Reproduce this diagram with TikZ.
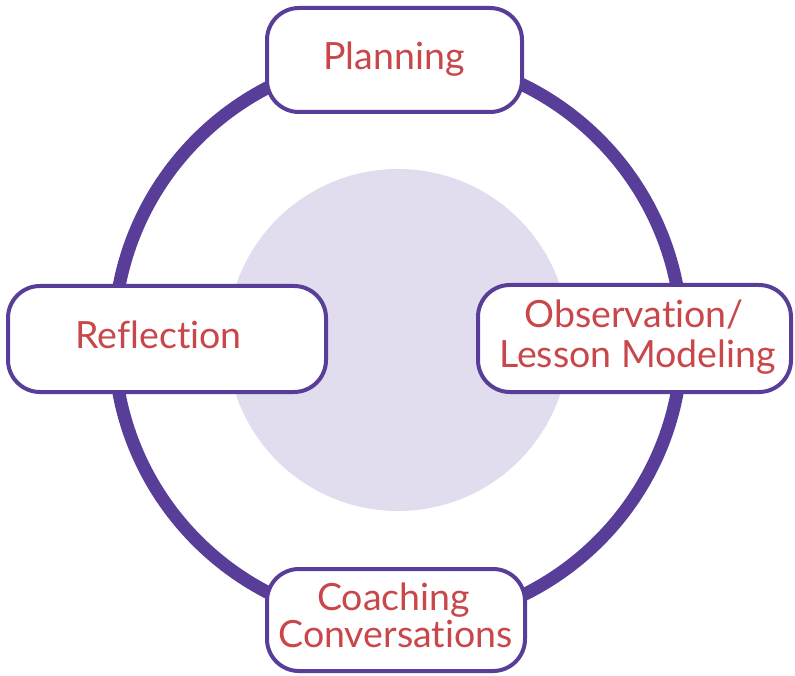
\documentclass[tikz,border=0pt]{standalone}
\usepackage{fontspec}
\setmainfont{Lato}[Ligatures={NoCommon,NoRare,NoContextual}]
\definecolor{ringpurple}{HTML}{583E99}
\definecolor{txtred}{HTML}{C9474A}
\definecolor{softfill}{HTML}{E1DDEE}
\begin{document}
\begin{tikzpicture}[x=1pt,y=-1pt,
  stagebox/.style={draw=ringpurple, line width=4pt, fill=white, rounded corners=32pt, inner sep=0pt},
  lbl/.style={text=txtred, font=\fontsize{37.5}{41}\selectfont, anchor=base, inner sep=0pt}]
\useasboundingbox (0,0) rectangle (795,676);
\fill[softfill] (398,340) circle[radius=171];
\draw[ringpurple, line width=13pt] (398,340) circle[radius=284];
\node[stagebox, minimum width=255pt, minimum height=104pt] (plan) at (394.5,60) {};
\node[stagebox, minimum width=318pt, minimum height=106pt] (refl) at (167,339) {};
\node[stagebox, minimum width=313pt, minimum height=107pt] (obs) at (634.5,338.5) {};
\node[stagebox, minimum width=258pt, minimum height=102pt] (coach) at (396,620) {};
\node[lbl] (tplan) at (394,70) {Planning};
\node[lbl] (trefl) at (158.5,348) {Reflection};
\node[lbl] (tobs1) at (634,327) {Observation/};
\node[lbl] (tobs2) at (637.5,367) {Lesson Modeling};
\node[lbl] (tco1) at (393.5,610) {Coaching};
\node[lbl] (tco2) at (395.5,647) {Conversations};
\end{tikzpicture}
\end{document}
